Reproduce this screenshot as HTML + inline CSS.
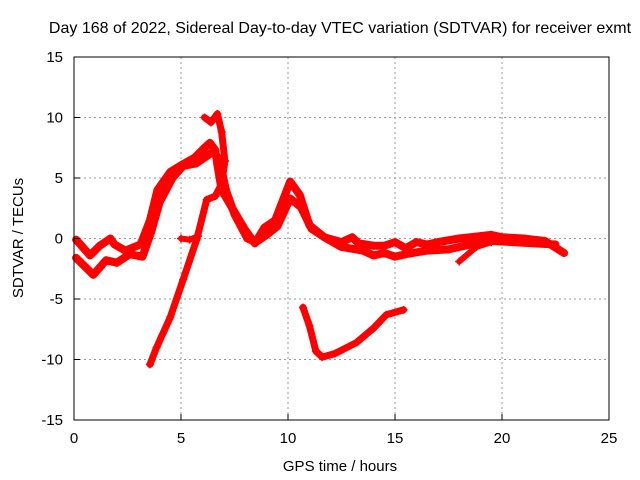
<!DOCTYPE html>
<html><head><meta charset="utf-8"><style>
body{margin:0;background:#fff}
svg{display:block;font-family:"Liberation Sans",sans-serif;font-size:15px}
</style></head><body>
<svg id="chart" width="640" height="480" viewBox="0 0 640 480" xmlns="http://www.w3.org/2000/svg">
<rect width="640" height="480" fill="#fff"/>
<text x="340" y="33" text-anchor="middle" font-size="16">Day 168 of 2022, Sidereal Day-to-day VTEC variation (SDTVAR) for receiver exmt</text>
<g id="grid"></g>
<g id="series"></g>
<rect x="74" y="57" width="535" height="363" fill="none" stroke="#000" stroke-width="1"/>
<g id="ticks"></g>
<text x="340" y="471" text-anchor="middle">GPS time / hours</text>
<text x="23" y="238" text-anchor="middle" transform="rotate(-90 23 238)">SDTVAR / TECUs</text>
</svg>
<script>
const xTicks=[0,5,10,15,20,25];
const yTicks=[-15,-10,-5,0,5,10,15];
const s1h=[0.1,0.75,1.2,1.7,1.9,2.4,3.1,3.2,3.55,3.9,4.5,5.05,5.65,6.1,6.35,6.6,6.7,6.9,7.3,8.0,8.45,8.9,9.4,10.1,10.55,11.0,11.7,12.5,13.0,13.3,14.0,14.5,15.0,15.5,16.0,16.5,17.0,18.0,19.0,19.5,20.0,21.0,22.0,22.9];
const s1v=[-0.1,-1.4,-0.6,0,-0.5,-1.0,-0.5,-0.1,1.5,4.0,5.5,6.1,6.7,7.5,7.9,7.3,6.1,4.0,2.8,0.7,-0.4,0.9,1.5,4.7,3.6,1.1,0.1,-0.3,0.1,-0.4,-0.6,-0.6,-0.3,-0.8,-0.3,-0.5,-0.3,0.0,0.2,0.3,0.1,0.0,-0.2,-1.2];
const s2h=[0.1,0.9,1.5,2.0,2.6,3.2,3.6,4.0,4.6,5.1,5.7,6.2,6.5,6.8,7.1,7.5,8.1,8.5,9.0,9.5,10.1,10.6,11.1,11.8,12.5,13.5,14.0,14.5,15.0,15.5,16.5,17.5,18.5,19.5,20.5,21.5,22.5];
const s2v=[-1.6,-3.0,-1.8,-2.0,-1.3,-1.5,0.5,3.0,5.0,6.0,6.2,6.8,7.2,6.5,4.0,2.0,0.0,-0.3,0.3,1.0,3.3,2.6,0.8,0.0,-0.7,-1.0,-1.4,-1.2,-1.5,-1.3,-1.0,-0.9,-0.5,-0.2,-0.3,-0.4,-0.5];
const s3h=[3.55,3.86,4.5,5.1,5.73,6.2,6.6,6.9,7.05];
const s3v=[-10.4,-9.0,-6.5,-3.4,-0.1,3.2,3.5,4.5,6.4];
const s4h=[6.1,6.4,6.7,6.9,7.05];
const s4v=[10.0,9.6,10.3,8.8,6.4];
const s5h=[5.0,5.4,5.8];
const s5v=[0.0,-0.1,0.2];
const s6h=[10.7,11.0,11.3,11.6,12.2,13.2,14.0,14.6,15.4];
const s6v=[-5.7,-7.2,-9.3,-9.8,-9.5,-8.6,-7.4,-6.3,-5.9];
const s7h=[18.0,18.8,19.5,20.3];
const s7v=[-1.9,-0.7,-0.3,0.0];
const sx=h=>74+h*21.4;
const sy=v=>238.5-v*12.1;
const NS="http://www.w3.org/2000/svg";
const grid=document.getElementById('grid'),ticks=document.getElementById('ticks'),ser=document.getElementById('series');
function mk(tag,at,parent){const e=document.createElementNS(NS,tag);for(const k in at)e.setAttribute(k,at[k]);parent.appendChild(e);return e;}
xTicks.forEach(t=>{
 const x=sx(t);
 if(t>0&&t<25){const g=mk('line',{x1:x,x2:x,y1:57,y2:420,stroke:'#999','stroke-dasharray':'2,3'},grid);
 
 }
 const tk=mk('line',{x1:x,x2:x,y1:420,y2:414,stroke:'#000'},ticks);
 
 
 const lb=mk('text',{x:x,y:443,'text-anchor':'middle'},ticks);lb.textContent=t;
 
 
});
yTicks.forEach(t=>{
 const y=sy(t);
 if(t>-15&&t<15){const g=mk('line',{x1:74,x2:609,y1:y,y2:y,stroke:'#999','stroke-dasharray':'2,3'},grid);
 
 }
 const tk=mk('line',{x1:74,x2:80,y1:y,y2:y,stroke:'#000'},ticks);
 
 
 const lb=mk('text',{x:63,y:y+5,'text-anchor':'end'},ticks);lb.textContent=t;
 
 
});
function draw(hs,vs,name,w){
 const pts=hs.map((h,i)=>sx(h)+','+sy(vs[i])).join(' ');
 const pl=mk('polyline',{points:pts,fill:'none',stroke:'#f00','stroke-width':w,'stroke-linejoin':'round','stroke-linecap':'round'},ser);
 
 
 hs.forEach((h,i)=>{const x=sx(h),y=sy(vs[i]);
  const m=mk('path',{d:`M${x-4},${y}H${x+4}M${x},${y-4}V${y+4}`,stroke:'#f00','stroke-width':1.5},ser);
  
  });
}
draw(s1h,s1v,'series-upper-band',8);
draw(s2h,s2v,'series-lower-band',8);
draw(s3h,s3v,'series-rising-arc',7);
draw(s4h,s4v,'series-peak-spike',7);
draw(s5h,s5v,'series-ledge',6);
draw(s6h,s6v,'series-dip-arc',7);
draw(s7h,s7v,'series-late-branch',6);
</script>
</body></html>
